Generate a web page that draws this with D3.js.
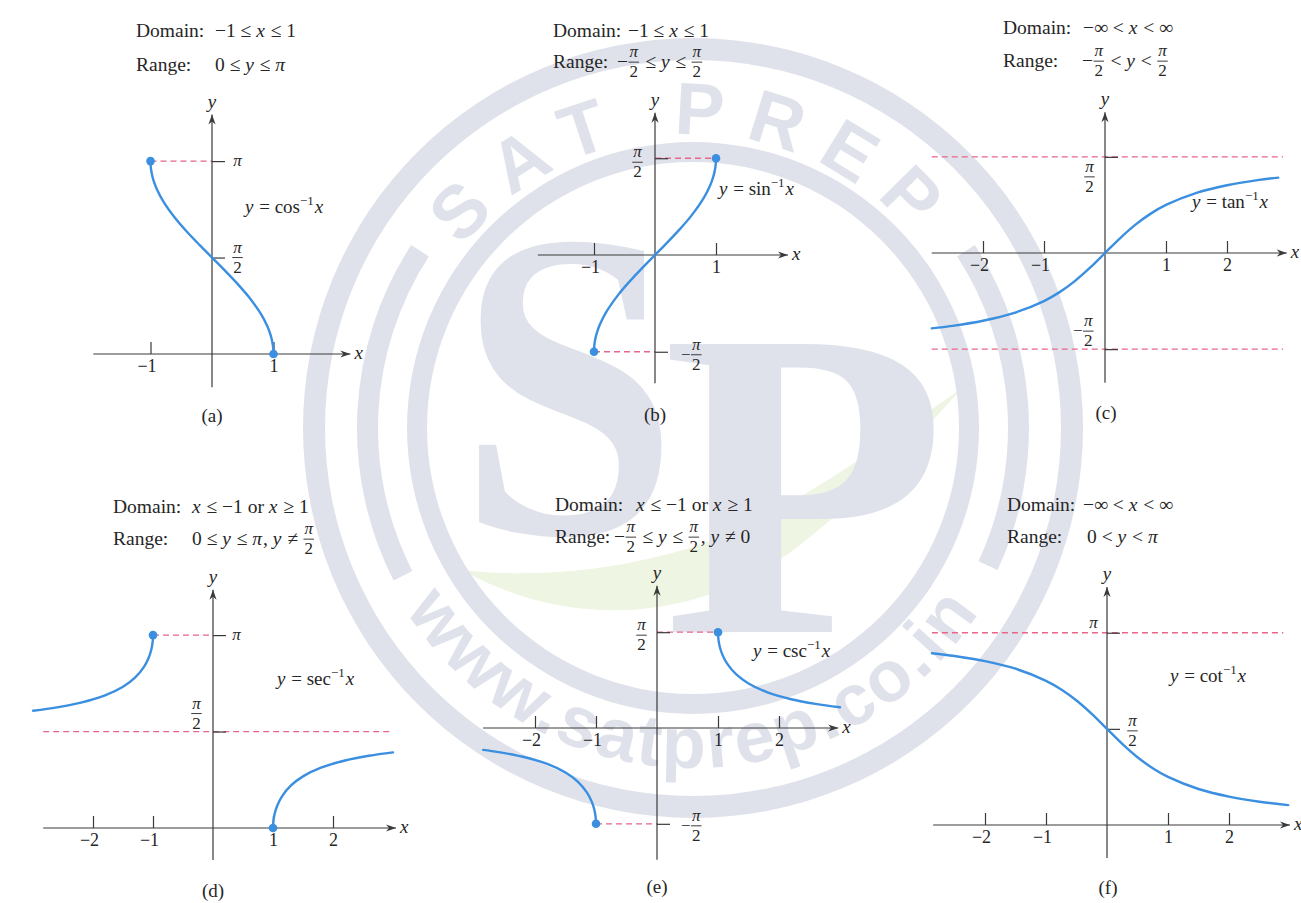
<!DOCTYPE html>
<html>
<head>
<meta charset="utf-8">
<script src="https://cdn.jsdelivr.net/npm/d3@7"></script>
<style>
  html, body { margin: 0; padding: 0; background: #fff; }
  svg { display: block; }
  text { font-family: "Liberation Serif", "Times New Roman", serif; fill: #262626; white-space: pre; }
  .guide { stroke: #e8668a; stroke-width: 1.3; stroke-dasharray: 6 4; }
  .curve { fill: none; stroke: #3b8fe0; stroke-width: 2.4; stroke-linecap: round; }
</style>
</head>
<body>
<svg id="chart" width="1301" height="903"></svg>
<script>
const PI = Math.PI;

// curve samples (x, y)
const acosX = [-1, -0.998, -0.99, -0.97, -0.94, -0.9, -0.8, -0.6, -0.4, -0.2, 0, 0.2, 0.4, 0.6, 0.8, 0.9, 0.94, 0.97, 0.99, 0.998, 1];
const acosY = [3.1416, 3.0783, 3.0001, 2.8960, 2.7934, 2.6906, 2.4981, 2.2143, 1.9823, 1.7722, 1.5708, 1.3694, 1.1593, 0.9273, 0.6435, 0.4510, 0.3482, 0.2456, 0.1415, 0.0633, 0];
const asinX = [-1, -0.998, -0.99, -0.97, -0.94, -0.9, -0.8, -0.6, -0.4, -0.2, 0, 0.2, 0.4, 0.6, 0.8, 0.9, 0.94, 0.97, 0.99, 0.998, 1];
const asinY = [-1.5708, -1.5075, -1.4293, -1.3252, -1.2226, -1.1198, -0.9273, -0.6435, -0.4115, -0.2014, 0, 0.2014, 0.4115, 0.6435, 0.9273, 1.1198, 1.2226, 1.3252, 1.4293, 1.5075, 1.5708];
const atanX = [-2.84, -2.5, -2, -1.5, -1, -0.75, -0.5, -0.25, 0, 0.25, 0.5, 0.75, 1, 1.5, 2, 2.5, 2.84];
const atanY = [-1.2323, -1.1903, -1.1071, -0.9828, -0.7854, -0.6435, -0.4636, -0.2450, 0, 0.2450, 0.4636, 0.6435, 0.7854, 0.9828, 1.1071, 1.1903, 1.2323];
const asecLeftX = [-3, -2.6, -2.2, -1.8, -1.5, -1.3, -1.15, -1.07, -1.03, -1.01, -1.002, -1];
const asecLeftY = [1.9106, 1.9656, 2.0427, 2.1599, 2.3005, 2.4485, 2.6252, 2.7779, 2.8997, 3.0008, 3.0784, 3.1416];
const asecRightX = [1, 1.002, 1.01, 1.03, 1.07, 1.15, 1.3, 1.5, 1.8, 2.2, 2.6, 3];
const asecRightY = [0, 0.0632, 0.1408, 0.2419, 0.3637, 0.5164, 0.6931, 0.8411, 0.9817, 1.0989, 1.1760, 1.2310];
const acscLeftX = [-2.85, -2.6, -2.2, -1.8, -1.5, -1.3, -1.15, -1.07, -1.03, -1.01, -1.002, -1];
const acscLeftY = [-0.3585, -0.3948, -0.4719, -0.5891, -0.7297, -0.8777, -1.0544, -1.2071, -1.3289, -1.4300, -1.5076, -1.5708];
const acscRightX = [1, 1.002, 1.01, 1.03, 1.07, 1.15, 1.3, 1.5, 1.8, 2.2, 2.6, 3];
const acscRightY = [1.5708, 1.5076, 1.4300, 1.3289, 1.2071, 1.0544, 0.8777, 0.7297, 0.5891, 0.4719, 0.3948, 0.3398];
const acotX = [-2.87, -2.5, -2, -1.5, -1, -0.75, -0.5, -0.25, 0, 0.25, 0.5, 0.75, 1, 1.5, 2, 2.5, 2.97];
const acotY = [2.8063, 2.7611, 2.6779, 2.5536, 2.3562, 2.2143, 2.0344, 1.8158, 1.5708, 1.3258, 1.1071, 0.9273, 0.7854, 0.5880, 0.4636, 0.3805, 0.3248];

// ticks
const ticksOne = [-1, 1];
const ticksTwo = [-2, -1, 1, 2];
const yTicksA = [PI / 2, PI], yLabelsA = ["[π/2]", "*π*"];
const yTicksB = [PI / 2, -PI / 2], yLabelsB = ["[π/2]", "−[π/2]"];
const yTicksC = [PI / 2, -PI / 2], yLabelsC = ["[π/2]", "−[π/2]"];
const yTicksD = [PI, PI / 2], yLabelsD = ["*π*", "[π/2]"];
const yTicksE = [PI / 2, -PI / 2], yLabelsE = ["[π/2]", "−[π/2]"];
const yTicksF = [PI, PI / 2], yLabelsF = ["*π*", "[π/2]"];

// texts
const domainText = ["−1 ≤ *x* ≤ 1", "−1 ≤ *x* ≤ 1", "−∞ < *x* < ∞", "*x* ≤ −1 or *x* ≥ 1", "*x* ≤ −1 or *x* ≥ 1", "−∞ < *x* < ∞"];
const rangeText = ["0 ≤ *y* ≤ *π*", "−[π/2] ≤ *y* ≤ [π/2]", "−[π/2] < *y* < [π/2]", "0 ≤ *y* ≤ *π*, *y* ≠ [π/2]", "−[π/2] ≤ *y* ≤ [π/2], *y* ≠ 0", "0 < *y* < *π*"];
const funcNames = ["cos", "sin", "tan", "sec", "csc", "cot"];
const captions = ["(a)", "(b)", "(c)", "(d)", "(e)", "(f)"];

const INK = "#262626", AXIS = "#3a3a3a", BLUE = "#3b8fe0", WM = "#e0e2eb";

const svg = d3.select("#chart");
svg.append("rect").attr("width", 1301).attr("height", 903).attr("fill", "#fff");
const defs = svg.append("defs");
defs.append("marker").attr("id", "arrow")
  .attr("viewBox", "-10 -5 11 10").attr("refX", 0).attr("refY", 0)
  .attr("markerWidth", 11).attr("markerHeight", 10)
  .attr("markerUnits", "userSpaceOnUse").attr("orient", "auto")
  .append("path").attr("d", "M0,0L-10,-3.6L-7,0L-10,3.6Z").attr("fill", AXIS);

// ---- watermark ----
const wcx = 693, wcy = 428;
const wm = svg.append("g");
wm.append("path")
  .attr("d", "M462,570 C560,625 690,630 800,545 C870,490 925,430 962,388 C880,445 790,515 690,548 C610,572 530,578 462,570 Z")
  .attr("fill", "#eef5e3");
const arc = d3.arc();
const rings = wm.append("g").attr("transform", `translate(${wcx},${wcy})`).attr("fill", WM);
rings.append("path").attr("d", arc({ innerRadius: 368, outerRadius: 390, startAngle: 0, endAngle: 2 * PI }));
rings.append("path").attr("d", arc({ innerRadius: 266, outerRadius: 286, startAngle: 0, endAngle: 2 * PI }));
rings.append("path").attr("d", arc({ innerRadius: 315, outerRadius: 336, startAngle: 243 * PI / 180, endAngle: 303 * PI / 180 }));
rings.append("path").attr("d", arc({ innerRadius: 315, outerRadius: 336, startAngle: 57 * PI / 180, endAngle: 115 * PI / 180 }));

function arcPath(r, a0, a1, sweep) {
  const p0 = [wcx + r * Math.cos(a0 * PI / 180), wcy + r * Math.sin(a0 * PI / 180)];
  const p1 = [wcx + r * Math.cos(a1 * PI / 180), wcy + r * Math.sin(a1 * PI / 180)];
  return `M${p0[0]},${p0[1]} A${r},${r} 0 0 ${sweep} ${p1[0]},${p1[1]}`;
}
defs.append("path").attr("id", "wmTop").attr("d", arcPath(293, -160, -20, 1));
defs.append("path").attr("id", "wmBottom").attr("d", arcPath(340, 170, 10, 0));
wm.append("text").style("font-family", "'Liberation Sans', Arial, sans-serif").style("font-size", "74px")
  .style("font-weight", "bold").style("letter-spacing", "21px").style("fill", WM)
  .append("textPath").attr("href", "#wmTop").attr("startOffset", "50%").attr("text-anchor", "middle").text("SAT PREP");
wm.append("text").style("font-family", "'Liberation Sans', Arial, sans-serif").style("font-size", "72px")
  .style("font-weight", "bold").style("letter-spacing", "3px").style("fill", WM)
  .append("textPath").attr("href", "#wmBottom").attr("startOffset", "50%").attr("text-anchor", "middle").text("www.satprep.co.in");
wm.append("text").attr("transform", "translate(458,533) scale(0.9,1)")
  .style("font-size", "440px").style("font-weight", "bold").style("fill", WM).text("S");
wm.append("text").attr("transform", "translate(662,632) scale(1.06,1)")
  .style("font-size", "440px").style("font-weight", "bold").style("fill", WM).text("P");

// ---- math text helper: *italic*, [num/den], ^{sup} ----
function drawMath(parent, x, y, str, size, fsize, anchor) {
  const g = parent.append("g");
  const toks = str.match(/\[[^\]]*\]|\*[^*]*\*|\^\{[^}]*\}|[^\[*^]+/g);
  let cx = 0;
  toks.forEach(tk => {
    if (tk[0] === "[") {
      const [n, d] = tk.slice(1, -1).split("/");
      const bar = -size * 0.3;
      const nt = g.append("text").attr("y", bar - 5).style("font-size", fsize + "px").style("font-style", "italic").attr("text-anchor", "middle").text(n);
      const dt = g.append("text").attr("y", bar + 15).style("font-size", fsize + "px").attr("text-anchor", "middle").text(d);
      const w = Math.max(nt.node().getComputedTextLength(), dt.node().getComputedTextLength()) + 3;
      nt.attr("x", cx + w / 2);
      dt.attr("x", cx + w / 2);
      g.append("line").attr("x1", cx + 0.5).attr("x2", cx + w - 0.5).attr("y1", bar).attr("y2", bar)
        .attr("stroke", INK).attr("stroke-width", 0.9);
      cx += w + 1;
    } else if (tk[0] === "*") {
      const t = g.append("text").attr("x", cx).attr("y", 0).style("font-size", size + "px").style("font-style", "italic").text(tk.slice(1, -1));
      cx += t.node().getComputedTextLength() + 1;
    } else if (tk[0] === "^") {
      const t = g.append("text").attr("x", cx).attr("y", -size * 0.4).style("font-size", (size * 0.68) + "px").text(tk.slice(2, -1));
      cx += t.node().getComputedTextLength() + 1;
    } else {
      const t = g.append("text").attr("x", cx).attr("y", 0).style("font-size", size + "px").text(tk);
      cx += t.node().getComputedTextLength();
    }
  });
  const tx = anchor === "middle" ? x - cx / 2 : x;
  g.attr("transform", `translate(${tx},${y})`);
  return cx;
}

// ---- panels ----
const panels = [
  { ox: 212, oy: 354, ux: 61.5, uy: 61.4, xExt: [-1.93, 2.25], yExt: [-0.54, 3.9],
    xTicks: ticksOne, yTicks: yTicksA, yLabels: yLabelsA, yLab: [[26, 0], [26, 0]],
    guides: [[-1, 0, PI]], curves: [[acosX, acosY]], dots: [[-1, PI], [1, 0]],
    labX: 136, domY: 37, rngY: 71, domVX: 215, rngVX: 215, fnX: 245, fnY: 213, capX: 212, capY: 422 },
  { ox: 655, oy: 255, ux: 61, uy: 61.6, xExt: [-1.92, 2.18], yExt: [-2.08, 2.31],
    xTicks: ticksOne, yTicks: yTicksB, yLabels: yLabelsB, yLab: [[-17, 4], [37, 3]],
    guides: [[0, 1, PI / 2], [-1, 0, -PI / 2]], curves: [[asinX, asinY]], dots: [[1, PI / 2], [-1, -PI / 2]],
    labX: 553, domY: 37, rngY: 68, domVX: 628, rngVX: 617, fnX: 719, fnY: 195, capX: 655, capY: 421 },
  { ox: 1105, oy: 253, ux: 61, uy: 61.2, xExt: [-2.84, 2.98], yExt: [-2.12, 2.30],
    xTicks: ticksTwo, yTicks: yTicksC, yLabels: yLabelsC, yLab: [[-15, 20], [-21, -18]],
    guides: [[-2.84, 2.92, PI / 2], [-2.84, 2.92, -PI / 2]], curves: [[atanX, atanY]], dots: [],
    labX: 1003, domY: 34, rngY: 67, domVX: 1083, rngVX: 1082, fnX: 1192, fnY: 208, capX: 1106, capY: 419 },
  { ox: 213, oy: 828, ux: 60, uy: 61.4, xExt: [-2.83, 3.05], yExt: [-0.52, 3.88],
    xTicks: ticksTwo, yTicks: yTicksD, yLabels: yLabelsD, yLab: [[24, 0], [-16, -18]],
    guides: [[-1, 0, PI], [-2.83, 2.95, PI / 2]], curves: [[asecLeftX, asecLeftY], [asecRightX, asecRightY]], dots: [[-1, PI], [1, 0]],
    labX: 113, domY: 513, rngY: 545, domVX: 192, rngVX: 192, fnX: 277, fnY: 685, capX: 213, capY: 897 },
  { ox: 657, oy: 728, ux: 61, uy: 61, xExt: [-2.85, 2.97], yExt: [-2.16, 2.33],
    xTicks: ticksTwo, yTicks: yTicksE, yLabels: yLabelsE, yLab: [[-15, 3], [35, 2]],
    guides: [[0, 1, PI / 2], [-1, 0, -PI / 2]], curves: [[acscLeftX, acscLeftY], [acscRightX, acscRightY]], dots: [[1, PI / 2], [-1, -PI / 2]],
    labX: 555, domY: 511, rngY: 543, domVX: 636, rngVX: 614, fnX: 753, fnY: 657, capX: 657, capY: 893 },
  { ox: 1107, oy: 825, ux: 61, uy: 61.2, xExt: [-2.85, 3.0], yExt: [-0.54, 3.89],
    xTicks: ticksTwo, yTicks: yTicksF, yLabels: yLabelsF, yLab: [[-13, -10], [26, 2]],
    guides: [[-2.87, 2.89, PI]], curves: [[acotX, acotY]], dots: [],
    labX: 1007, domY: 511, rngY: 543, domVX: 1083, rngVX: 1087, fnX: 1170, fnY: 682, capX: 1108, capY: 894 }
];

const lineGen = d3.line().curve(d3.curveCatmullRom.alpha(0.5));

panels.forEach((p, i) => {
  const g = svg.append("g");
  const x = d3.scaleLinear().domain([0, 1]).range([p.ox, p.ox + p.ux]);
  const y = d3.scaleLinear().domain([0, 1]).range([p.oy, p.oy - p.uy]);

  // dashed guides
  p.guides.forEach(([x0, x1, v]) => {
    g.append("line").attr("class", "guide")
      .attr("x1", x(x0)).attr("x2", x(x1)).attr("y1", y(v)).attr("y2", y(v));
  });

  // x axis ticks + labels
  const xa = g.append("g").attr("transform", `translate(0,${p.oy})`)
    .call(d3.axisBottom(x).tickValues(p.xTicks).tickSizeInner(-12).tickSizeOuter(0).tickPadding(5.5)
      .tickFormat(d => d < 0 ? "−" + (-d) : String(d)));
  xa.select(".domain").remove();
  xa.selectAll(".tick line").attr("stroke", AXIS).attr("stroke-width", 1.2);
  xa.selectAll(".tick text").style("font-size", "18px").style("font-family", "'Liberation Serif', serif")
    .attr("dx", d => d < 0 ? -4 : 0);

  // y axis ticks
  const ya = g.append("g").attr("transform", `translate(${p.ox},0)`)
    .call(d3.axisRight(y).tickValues(p.yTicks).tickSizeInner(13).tickSizeOuter(0).tickFormat(() => ""));
  ya.select(".domain").remove();
  ya.selectAll(".tick line").attr("stroke", AXIS).attr("stroke-width", 1.2);

  // axis lines with arrows
  g.append("line").attr("x1", x(p.xExt[0])).attr("x2", x(p.xExt[1])).attr("y1", p.oy).attr("y2", p.oy)
    .attr("stroke", AXIS).attr("stroke-width", 1.2).attr("marker-end", "url(#arrow)");
  g.append("line").attr("x1", p.ox).attr("x2", p.ox).attr("y1", y(p.yExt[0])).attr("y2", y(p.yExt[1]))
    .attr("stroke", AXIS).attr("stroke-width", 1.2).attr("marker-end", "url(#arrow)");
  g.append("text").attr("x", x(p.xExt[1]) + 4).attr("y", p.oy + 5)
    .style("font-size", "19px").style("font-style", "italic").text("x");
  g.append("text").attr("x", p.ox).attr("y", y(p.yExt[1]) - 7).attr("text-anchor", "middle")
    .style("font-size", "19px").style("font-style", "italic").text("y");

  // y tick labels
  p.yTicks.forEach((v, k) => {
    const [dx, dy] = p.yLab[k];
    drawMath(g, p.ox + dx, y(v) + dy + 17 * 0.3, p.yLabels[k], 17, 17, "middle");
  });

  // curves
  p.curves.forEach(([xs, ys]) => {
    g.append("path").attr("class", "curve")
      .attr("d", lineGen(d3.zip(xs, ys).map(d => [x(d[0]), y(d[1])])));
  });
  g.selectAll("circle.dot").data(p.dots).enter().append("circle")
    .attr("class", "dot").attr("cx", d => x(d[0])).attr("cy", d => y(d[1])).attr("r", 4.3).attr("fill", BLUE);

  // function label
  drawMath(g, p.fnX, p.fnY, "*y* = " + funcNames[i] + "^{−1}*x*", 19, 17, "start");

  // domain / range
  g.append("text").attr("x", p.labX).attr("y", p.domY).style("font-size", "19.5px").text("Domain:");
  g.append("text").attr("x", p.labX).attr("y", p.rngY).style("font-size", "19.5px").text("Range:");
  drawMath(g, p.domVX, p.domY, domainText[i], 19.5, 17, "start");
  drawMath(g, p.rngVX, p.rngY, rangeText[i], 19.5, 17, "start");

  // caption
  g.append("text").attr("x", p.capX).attr("y", p.capY).attr("text-anchor", "middle")
    .style("font-size", "19px").text(captions[i]);
});
</script>
</body>
</html>
